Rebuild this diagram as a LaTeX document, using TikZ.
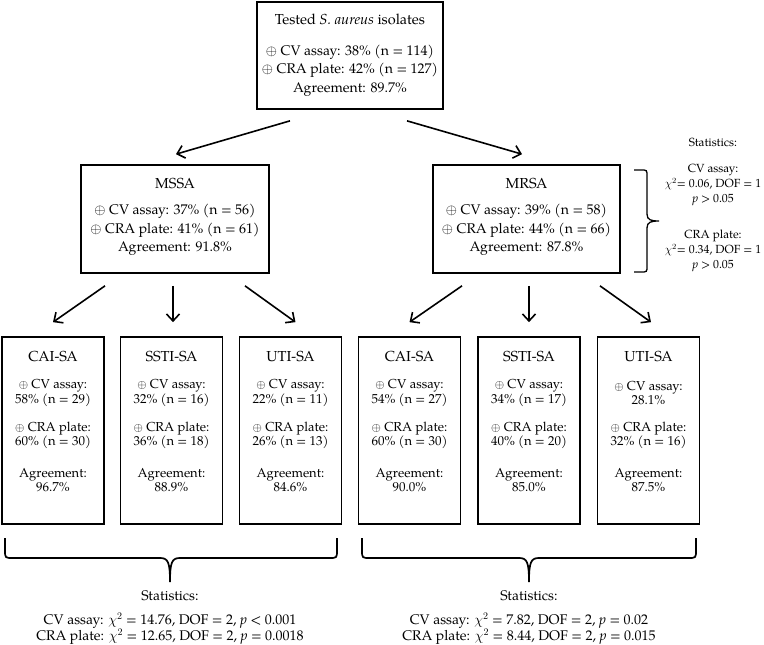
\documentclass[tikz,border=0pt]{standalone}
\usepackage{fontspec}
\setmainfont{texgyrepagella}[Extension=.otf,UprightFont=*-regular,ItalicFont=*-italic,BoldFont=*-bold,BoldItalicFont=*-bolditalic]
\usetikzlibrary{calc,arrows.meta}
\newcommand\plusc{$\oplus$}
\begin{document}
\begin{tikzpicture}[x=1pt,y=-1pt,
  box/.style={draw,line width=1.7pt,inner sep=0pt},
  txt/.style={inner sep=0pt,align=center,font=\fontsize{14}{18.5}\selectfont},
  sub/.style={inner sep=0pt,align=center,font=\fontsize{13}{14.5}\selectfont},
  ttl/.style={inner sep=0pt,font=\fontsize{14.5}{17}\selectfont},
  stat/.style={inner sep=0pt,align=center,font=\fontsize{14}{16}\selectfont},
  rstat/.style={inner sep=0pt,align=center,font=\fontsize{11.8}{15}\selectfont},
  arr/.style={line width=1.6pt,-{Straight Barb[length=7pt,width=13pt]}},
  brc/.style={line width=1.7pt},
  brcr/.style={line width=1.3pt}]
\useasboundingbox (0,0) rectangle (764,645);

% top box
\node[box,minimum width=186pt,minimum height=107pt] (top) at (350,55.5) {};
\node[ttl] (topt) at (350,19) {Tested \textit{S. aureus} isolates};
\node[txt] (topd) at (350,70.5) {\plusc{} CV assay: 38\% (n = 114)\\ \plusc{} CRA plate: 42\% (n = 127)\\ Agreement: 89.7\%};

% MSSA / MRSA
\node[box,minimum width=188pt,minimum height=108pt] (mssa) at (175,219) {};
\node[ttl] (mssat) at (175,184) {MSSA};
\node[txt] (mssad) at (175,230) {\plusc{} CV assay: 37\% (n = 56)\\ \plusc{} CRA plate: 41\% (n = 61)\\ Agreement: 91.8\%};

\node[box,minimum width=187pt,minimum height=108pt] (mrsa) at (526.5,219) {};
\node[ttl] (mrsat) at (526.5,184) {MRSA};
\node[txt] (mrsad) at (526.5,230) {\plusc{} CV assay: 39\% (n = 58)\\ \plusc{} CRA plate: 44\% (n = 66)\\ Agreement: 87.8\%};

% right statistics
\node[rstat] (rs) at (713,142) {Statistics:};
\node[rstat] (rcv) at (713,185) {CV assay:\\ $\chi^2$= 0.06, DOF = 1\\ \textit{p} > 0.05};
\node[rstat] (rcra) at (713,251) {CRA plate:\\ $\chi^2$= 0.34, DOF = 1\\ \textit{p} > 0.05};
\draw[brcr] (634,170) -- (641,170) .. controls (647,170) .. (647,176) -- (647,214)
  .. controls (647,220) and (651,221) .. (659,221)
  .. controls (651,221) and (647,222) .. (647,228) -- (647,266)
  .. controls (647,272) .. (641,272) -- (634,272);

% bottom boxes
\newcommand\subgroup[6]{%
  \node[box,minimum width=102pt,minimum height=187pt] (#1) at (#2,430.5) {};
  \node[ttl] (#1t) at (#2,357) {#3};
  \node[sub] (#1c) at (#2,393) {\plusc{} CV assay:\\ #4};
  \node[sub] (#1r) at (#2,435.5) {\plusc{} CRA plate:\\ #5};
  \node[sub] (#1a) at (#2,480) {Agreement:\\ #6};
}
\subgroup{b1}{53}{CAI-SA}{58\% (n = 29)}{60\% (n = 30)}{96.7\%}
\subgroup{b2}{171.5}{SSTI-SA}{32\% (n = 16)}{36\% (n = 18)}{88.9\%}
\subgroup{b3}{290.5}{UTI-SA}{22\% (n = 11)}{26\% (n = 13)}{84.6\%}
\subgroup{b4}{409.5}{CAI-SA}{54\% (n = 27)}{60\% (n = 30)}{90.0\%}
\subgroup{b5}{529}{SSTI-SA}{34\% (n = 17)}{40\% (n = 20)}{85.0\%}
\subgroup{b6}{648.5}{UTI-SA}{28.1\%}{32\% (n = 16)}{87.5\%}

% arrows
\draw[arr] ([xshift=-60pt,yshift=-11pt]top.south) -- ([xshift=1pt,yshift=10pt]mssa.north);
\draw[arr] ([xshift=57pt,yshift=-11pt]top.south) -- ([xshift=-4.5pt,yshift=10pt]mrsa.north);

\draw[arr] ([xshift=-70pt,yshift=-12pt]mssa.south) -- ([yshift=14pt]b1.north);
\draw[arr] ($(mssa.south -| b2.north)+(1.5,12)$) -- ([xshift=1.5pt,yshift=14pt]b2.north);
\draw[arr] ([xshift=70pt,yshift=-12pt]mssa.south) -- ([xshift=5pt,yshift=14pt]b3.north);

\draw[arr] ([xshift=-64.5pt,yshift=-12pt]mrsa.south) -- ([yshift=14pt]b4.north);
\draw[arr] ($(mrsa.south -| b5.north)+(0,12)$) -- ([yshift=14pt]b5.north);
\draw[arr] ([xshift=73.5pt,yshift=-12pt]mrsa.south) -- ([xshift=2.5pt,yshift=14pt]b6.north);

% bottom braces
\draw[brc] (5,538) -- (5,550) .. controls (5,558) .. (13,558) -- (160,558)
  .. controls (168,558) and (170,562) .. (170,582)
  .. controls (170,562) and (172,558) .. (180,558) -- (329,558)
  .. controls (337,558) .. (337,550) -- (337,538);
\draw[brc] (362,538) -- (362,550) .. controls (362,558) .. (370,558) -- (519,558)
  .. controls (527,558) and (529,562) .. (529,582)
  .. controls (529,562) and (531,558) .. (539,558) -- (688,558)
  .. controls (696,558) .. (696,550) -- (696,538);

% bottom statistics
\node[stat] (ls) at (170,596) {Statistics:};
\node[stat] (lst) at (170,629) {CV assay: $\chi^2$ = 14.76, DOF = 2, \textit{p} < 0.001\\ CRA plate: $\chi^2$ = 12.65, DOF = 2, \textit{p} = 0.0018};
\node[stat] (rsb) at (529,596) {Statistics:};
\node[stat] (rst) at (529,629) {CV assay: $\chi^2$ = 7.82, DOF = 2, \textit{p} = 0.02\\ CRA plate: $\chi^2$ = 8.44, DOF = 2, \textit{p} = 0.015};
\end{tikzpicture}
\end{document}
